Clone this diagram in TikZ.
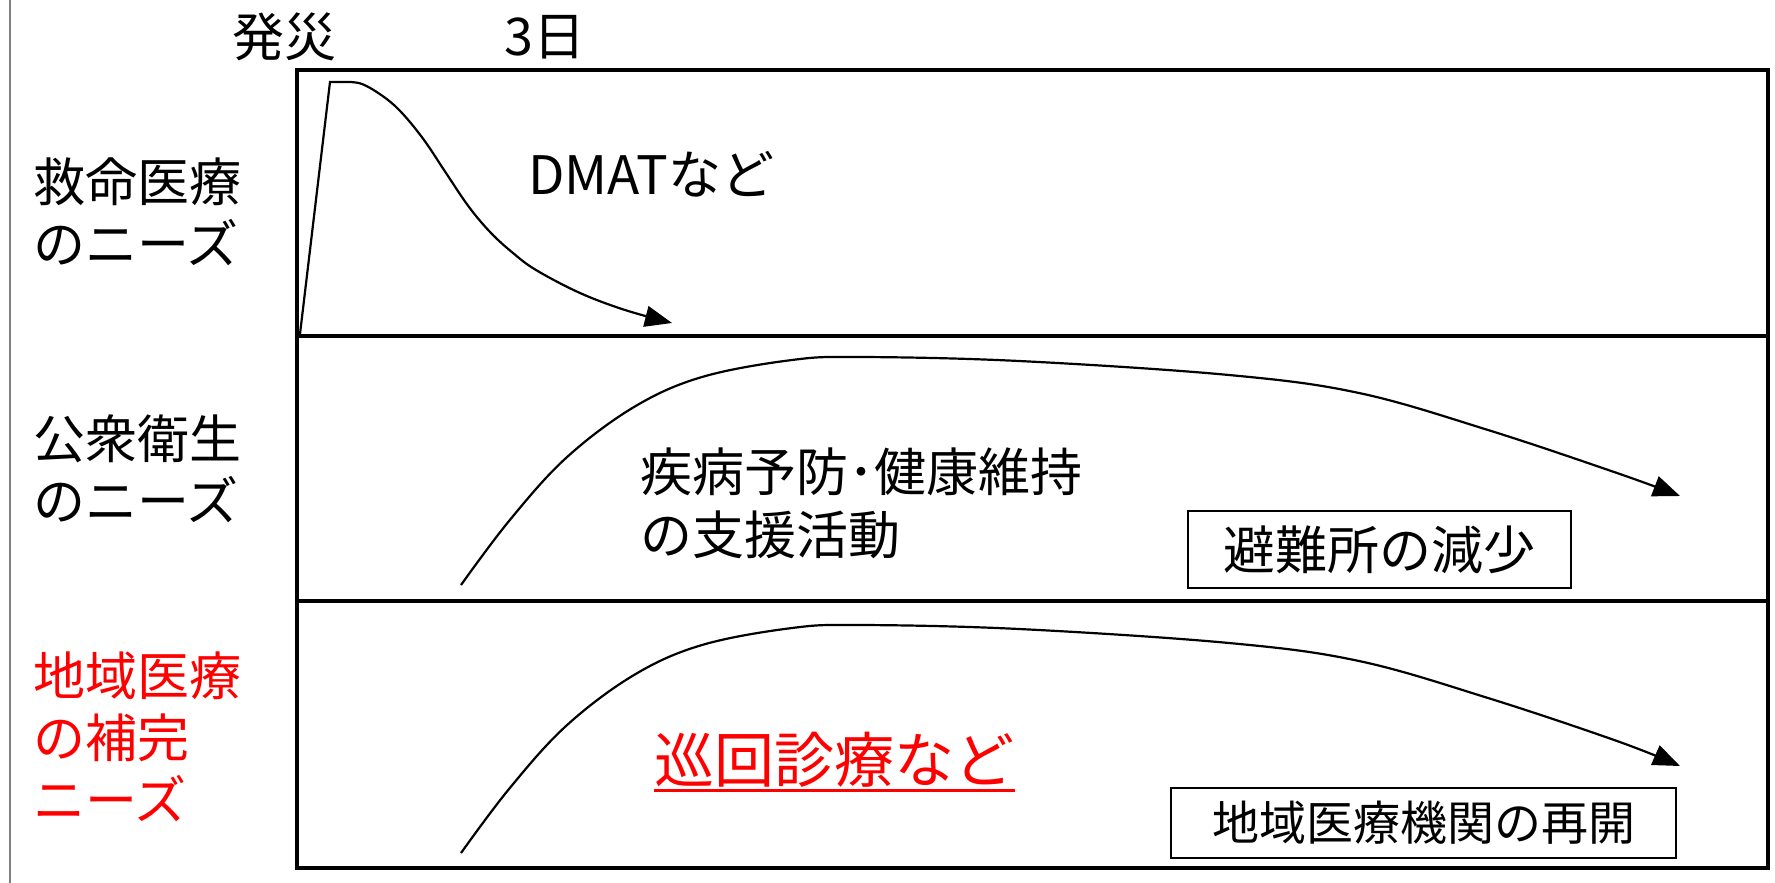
\documentclass[tikz,border=0pt]{standalone}
\usepackage{fontspec}
\setmainfont{Noto Sans CJK JP}
\usetikzlibrary{arrows.meta}
\begin{document}
\begin{tikzpicture}[x=1pt,y=-1pt,
  frame/.style={line width=3.5pt,black},
  curve/.style={line width=2.2pt,-{Triangle[length=27pt,width=21pt]}},
  lbl/.style={font=\fontsize{52}{62}\selectfont,align=left,anchor=west,inner sep=0pt},
  txt/.style={font=\fontsize{52}{63}\selectfont,align=left,anchor=west,inner sep=0pt},
  tagbox/.style={draw,line width=2pt,inner sep=0pt}
]
\useasboundingbox (0,0) rectangle (1775,883);
% left gray rule
\draw[gray,line width=2pt] (9.5,0) -- (9.5,883);
% frame
\draw[frame] (297,70) rectangle (1768,868);
\draw[frame] (297,336) -- (1768,336);
\draw[frame] (297,601) -- (1768,601);
% top labels
\node[txt,anchor=center] (hassai) at (284,37) {発災};
\node[txt,anchor=center] (day3) at (545,37) {3日};
% row labels
\node[lbl] (kyumei) at (33,212) {救命医療\\のニーズ};
\node[lbl] (koshu) at (33,469) {公衆衛生\\のニーズ};
\node[lbl,text=red] (chiiki) at (33,737) {地域医療\\の補完\\ニーズ};
% panel 1 curve
\draw[curve] (300,334) -- (330,82) -- plot[smooth,tension=0.6] coordinates {(345,82) (362,84) (384,97) (402,113) (424,140) (446,173) (469,207) (491,233) (513,253) (536,270) (580,293) (625,310) (672,323)};
\node[txt,font=\fontsize{53}{63}\selectfont] (dmat) at (528,174) {DMATなど};
% panel 2 curve
\draw[curve] plot[smooth,tension=0.6] coordinates {(461,585) (509,521) (566,458) (634,407) (702,377) (792,360) (860,357) (1019,361) (1229,375) (1359,393) (1488,430) (1617,473) (1680,496)};
\node[txt] (shippei) at (640,503) {疾病予防･健康維持\\の支援活動};
\node[tagbox,minimum width=383pt,minimum height=77pt,font=\fontsize{52}{60}\selectfont] (hinan) at (1379.5,549.5) {避難所の減少};
% panel 3 curve
\draw[curve] plot[smooth,tension=0.6] coordinates {(461,853) (509,789) (566,726) (634,675) (702,645) (792,628) (860,625) (1019,629) (1229,643) (1359,661) (1488,698) (1617,741) (1680,766)};
\node[txt,text=red,font=\fontsize{60}{70}\selectfont] (junkai) at (654,760) {巡回診療など};
\draw[red,line width=3pt] (654,790) coordinate (ul1) -- (1015,790) coordinate (ul2);
\node[tagbox,minimum width=505pt,minimum height=70pt,font=\fontsize{47}{56}\selectfont] (saikai) at (1423.5,823) {地域医療機関の再開};
\end{tikzpicture}
\end{document}
